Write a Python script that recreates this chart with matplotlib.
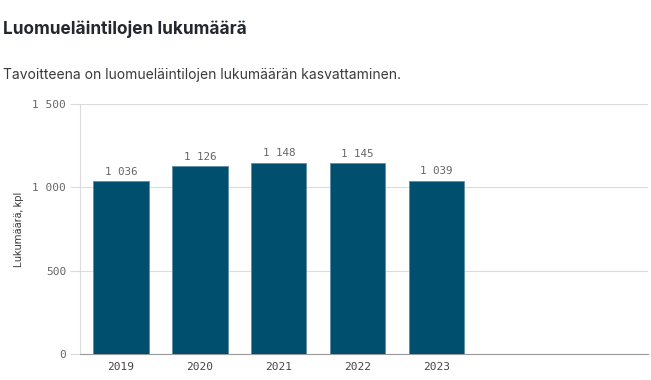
import numpy as np
import matplotlib.pyplot as plt

# Data
years = ['2019', '2020', '2021', '2022', '2023']
counts = [1036, 1126, 1148, 1145, 1039]
y_ticks = [0, 500, 1000, 1500]

BAR_COLOR = '#014f6e'
TEXT_GRAY = '#666666'
GRID_GRAY = '#dcdcdc'


def fmt(v):
    # Finnish style thousands separator
    return f"{v:,}".replace(',', ' ')


fig = plt.figure(figsize=(6.51, 3.80), dpi=100)
ax = fig.add_axes([0.123, 0.068, 0.872, 0.658])

x = np.arange(len(years))
ax.bar(x, counts, width=0.70, color=BAR_COLOR, edgecolor='#5f8ea3', linewidth=0.6, zorder=3)

for xi, v in zip(x, counts):
    ax.text(xi, v + 28, fmt(v), ha='center', va='bottom', fontsize=7.8,
            family='DejaVu Sans Mono', color=TEXT_GRAY)

ax.set_xlim(-0.52, 6.68)
ax.set_ylim(0, 1500)
ax.set_xticks(x)
ax.set_xticklabels(years, family='DejaVu Sans Mono', fontsize=8, color='#444444')
ax.set_yticks(y_ticks)
ax.set_yticklabels([fmt(t) for t in y_ticks], family='DejaVu Sans Mono', fontsize=8, color=TEXT_GRAY)

ax.yaxis.grid(True, color=GRID_GRAY, linewidth=0.8, zorder=0)
ax.tick_params(axis='x', length=0, pad=6)
ax.tick_params(axis='y', length=7, color=GRID_GRAY, pad=3)

for side in ['top', 'right']:
    ax.spines[side].set_visible(False)
ax.spines['left'].set_color(GRID_GRAY)
ax.spines['bottom'].set_color('#9a9a9a')

ax.set_ylabel('Lukumäärä, kpl', fontsize=8, family='Roboto', color='#444444', labelpad=6)

fig.text(0.005, 0.924, 'Luomueläintilojen lukumäärä', fontsize=12.4, fontweight='bold',
         family='Inter', color='#23272e', va='center')
fig.text(0.005, 0.803, 'Tavoitteena on luomueläintilojen lukumäärän kasvattaminen.', fontsize=10,
         family='Inter', color='#3a3a3a', va='center')

fig.savefig('out.png', dpi=100)
